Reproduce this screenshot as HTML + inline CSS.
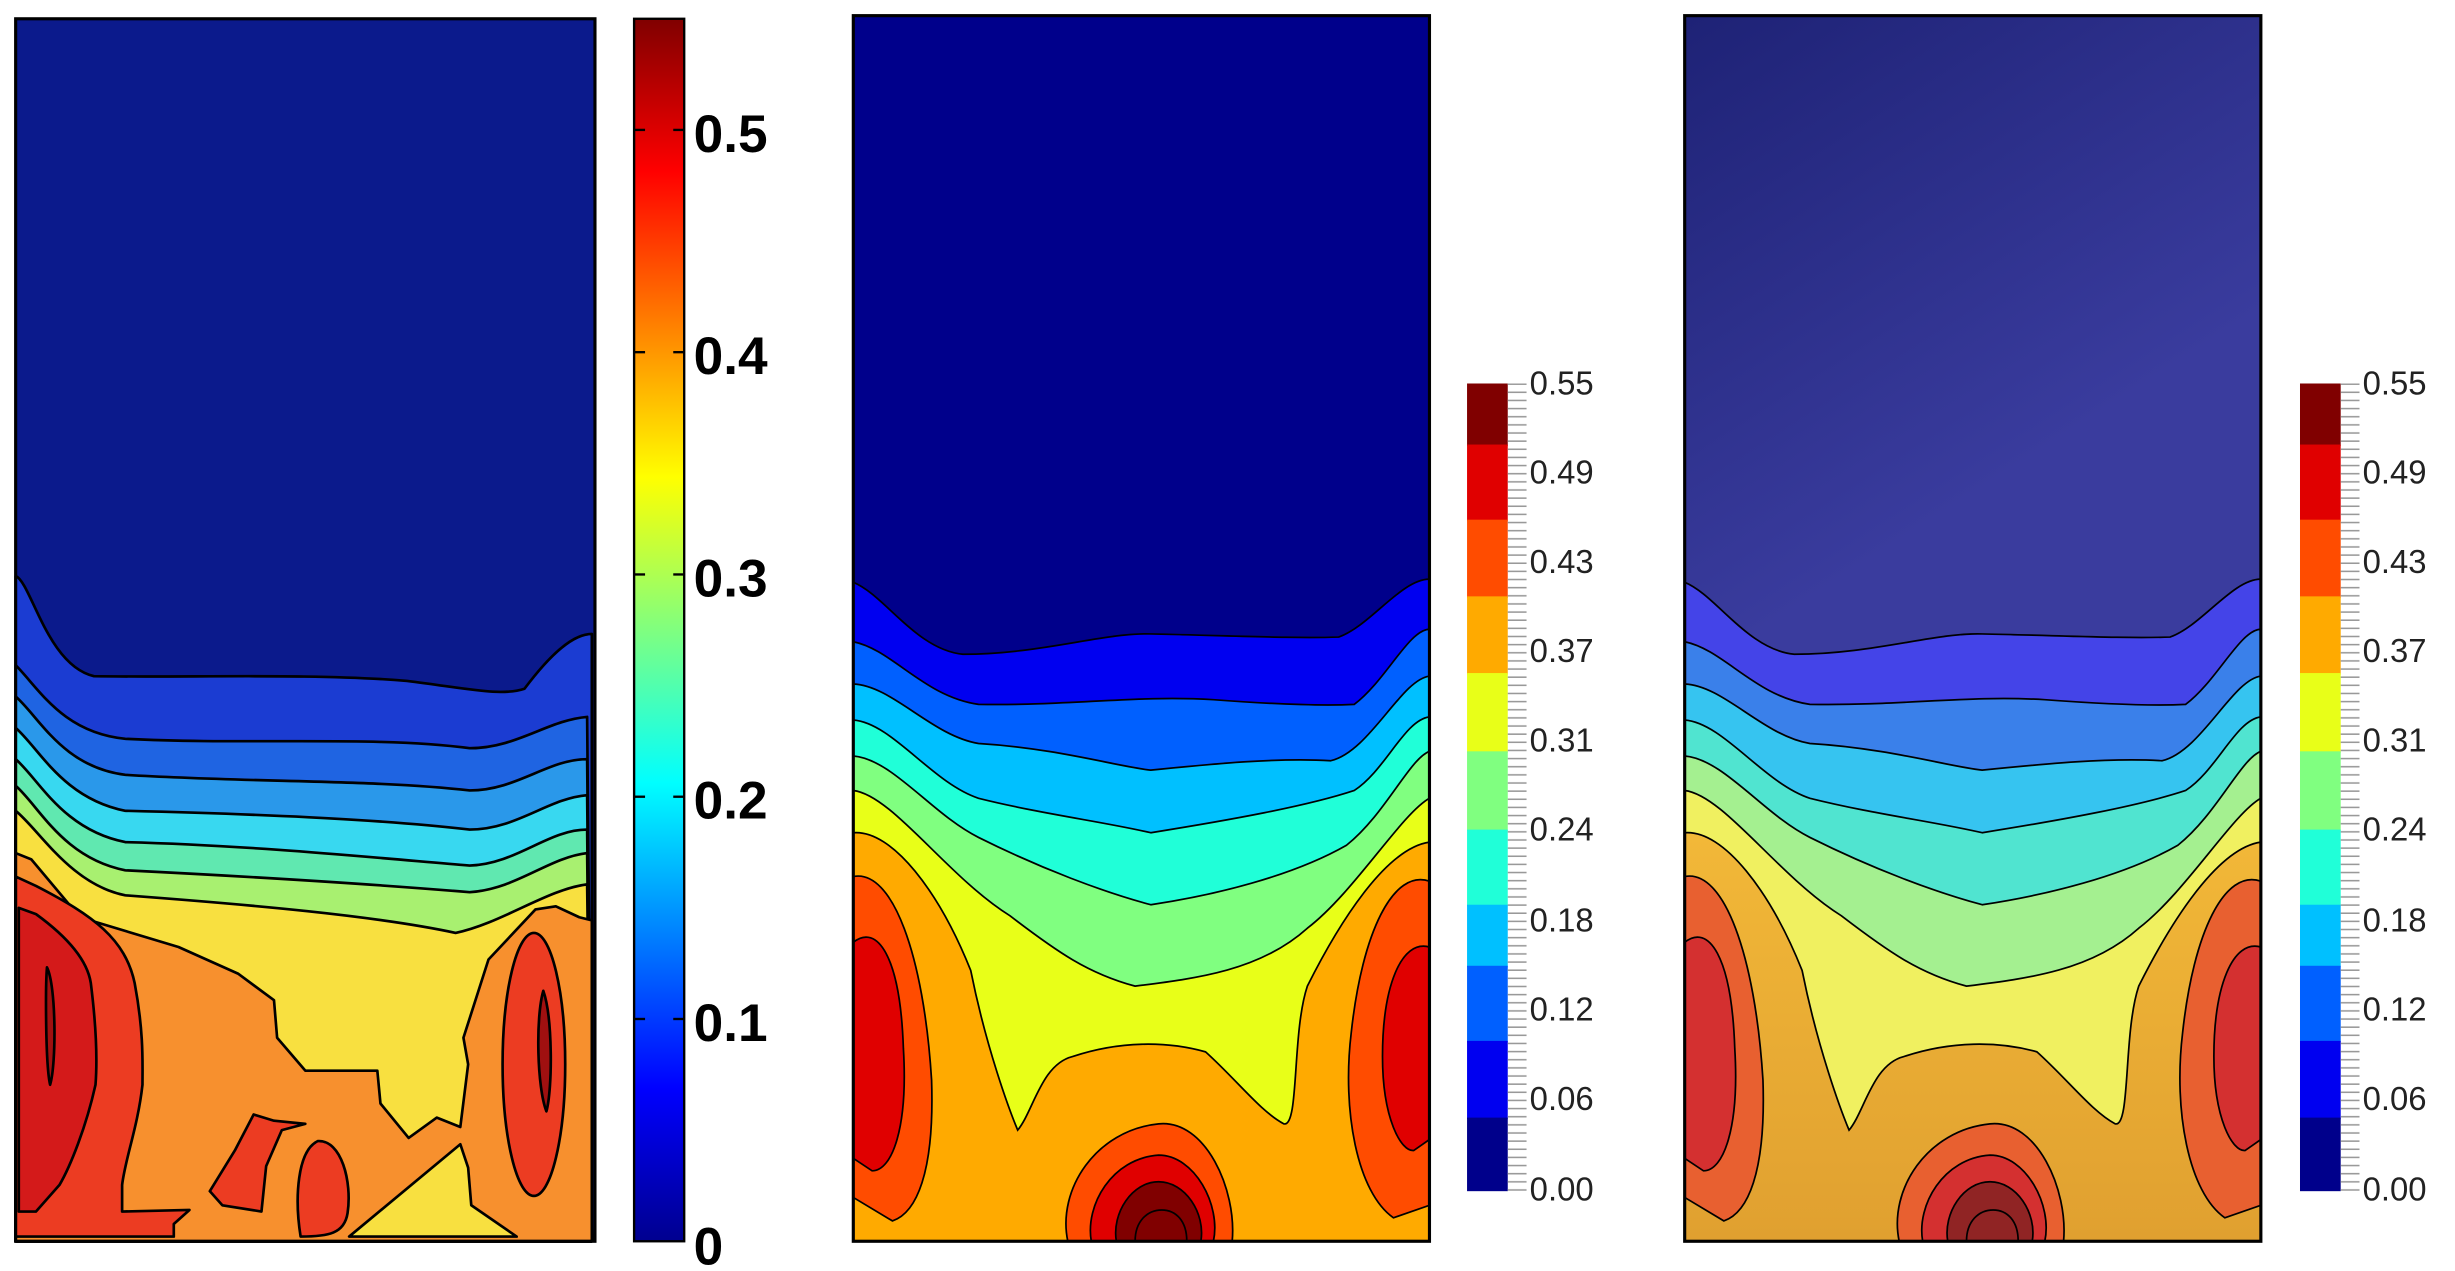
<!DOCTYPE html>
<html><head><meta charset="utf-8"><style>html,body{margin:0;padding:0;background:#fff}svg{display:block}</style></head>
<body>
<svg width="2455" height="1271" viewBox="0 0 1568 812" preserveAspectRatio="none" xmlns="http://www.w3.org/2000/svg">
<defs>
<linearGradient id="jet" x1="0" y1="1" x2="0" y2="0">
<stop offset="0" stop-color="#00008f"/><stop offset="0.125" stop-color="#0000ff"/><stop offset="0.375" stop-color="#00ffff"/><stop offset="0.625" stop-color="#ffff00"/><stop offset="0.875" stop-color="#ff0000"/><stop offset="1" stop-color="#800000"/>
</linearGradient>
<linearGradient id="bg3" x1="0" y1="0" x2="0.3" y2="1"><stop offset="0" stop-color="#1e2276"/><stop offset="0.5" stop-color="#3a3c9e"/></linearGradient>
<linearGradient id="or3" x1="0" y1="0" x2="0" y2="1"><stop offset="0" stop-color="#f2b838"/><stop offset="1" stop-color="#e0a030"/></linearGradient>
<pattern id="tk" x="0" y="0" width="20" height="5.2" patternUnits="userSpaceOnUse"><line x1="0" y1="1" x2="18" y2="1" stroke="#999" stroke-width="1"/></pattern>
<g id="p2" stroke="#000" stroke-width="1.1">
<path d="M0,362 C20,370 40,405 70,408 C120,408 160,394 190,395 C240,396 280,398 310,397 C330,390 350,360 368,360 L368,783 L0,783Z" fill="var(--c1)"/>
<path d="M0,400 C25,405 45,435 80,440 C140,441 180,434 230,437 C270,440 300,441 320,440 C340,425 355,392 368,392 L368,783 L0,783Z" fill="var(--c2)"/>
<path d="M0,427 C25,428 50,460 80,465 C130,468 170,480 190,482 C230,478 270,474 305,476 C330,470 350,424 368,422 L368,783 L0,783Z" fill="var(--c3)"/>
<path d="M0,450 C25,452 50,490 80,500 C120,510 160,515 190,522 C240,514 290,505 320,495 C340,482 352,450 368,448 L368,783 L0,783Z" fill="var(--c4)"/>
<path d="M0,473 C25,475 50,510 80,525 C120,545 160,560 190,568 C230,562 280,550 315,530 C340,510 355,475 368,470 L368,783 L0,783Z" fill="var(--c5)"/>
<path d="M0,495 C25,498 60,550 100,575 C130,598 150,612 180,620 C220,615 260,610 290,583 C320,560 350,510 368,500 L368,783 L0,783Z" fill="var(--c6)"/>
<path d="M0,522 C25,520 55,560 75,610 C85,660 100,700 105,712 C115,700 120,670 140,665 C170,655 200,655 225,662 C245,680 260,700 275,708 C285,710 280,650 290,620 C310,580 340,532 368,528 L368,783 L0,783Z" fill="var(--c7)"/>
<path d="M0,550 C25,545 45,600 50,680 C52,740 40,765 25,770 L0,755Z" fill="var(--c8)"/>
<path d="M0,592 C15,580 30,600 32,660 C35,710 25,738 12,738 L0,730Z" fill="var(--c9)"/>
<path d="M368,553 C345,545 325,585 318,650 C312,700 322,752 345,768 L368,760Z" fill="var(--c8)"/>
<path d="M368,595 C350,590 338,620 338,665 C338,705 350,726 358,725 L368,718Z" fill="var(--c9)"/>
<path d="M137,783 C130,750 155,712 195,708 C225,705 245,750 242,783Z" fill="var(--c8)"/>
<path d="M152,783 C148,760 165,730 195,728 C218,728 235,760 230,783Z" fill="var(--c9)"/>
<path d="M168,783 C165,765 178,745 195,745 C212,745 225,765 222,783Z" fill="var(--c10)"/>
<path d="M180,783 C180,770 188,763 197,763 C206,763 213,770 213,783Z" fill="var(--c10)"/>
</g>
</defs>

<!-- Panel 1 -->
<rect x="10" y="12" width="370" height="781" fill="#0b1a8c"/>
<g stroke="#000" stroke-width="1.7" stroke-linejoin="round">
<path d="M10,368 C20,372 30,425 60,432 C120,433 200,430 260,435 C300,440 320,445 335,440 C350,420 365,405 378,405 L378,793 L10,793Z" fill="#1b3cd2"/>
<path d="M10,425 C25,440 40,468 80,472 C160,476 240,470 300,478 C330,478 350,460 375,458 L378,793 L10,793Z" fill="#1f64e2"/>
<path d="M10,445 C25,458 40,490 80,495 C160,500 240,498 300,505 C330,505 350,485 375,485 L378,793 L10,793Z" fill="#2a98ea"/>
<path d="M10,465 C25,478 40,510 80,518 C160,520 240,523 300,530 C330,530 350,510 375,508 L378,793 L10,793Z" fill="#38d8f0"/>
<path d="M10,485 C25,498 40,530 80,538 C160,540 240,548 300,553 C330,552 350,530 375,530 L378,793 L10,793Z" fill="#60e8b0"/>
<path d="M10,502 C25,515 40,548 80,556 C160,560 240,565 300,570 C330,568 350,548 375,545 L378,793 L10,793Z" fill="#a8f070"/>
<path d="M10,518 C25,530 45,565 80,572 C160,578 240,585 291,596 C320,590 350,568 375,565 L378,793 L10,793Z" fill="#f8e040"/>
<path d="M10,545 L20,549 L51,586 L114,605 L152,622 L175,639 L177,663 L195,684 L241,684 L243,705 L261,727 L279,714 L294,720 L299,680 L296,663 L312,613 L342,581 L355,579 L370,586 L378,588 L378,793 L10,793Z" fill="#f7902e"/>
<path d="M294,731 L223,790 L330,790 L301,770 L299,746Z" fill="#f8e040"/>
<path d="M10,560 L23,566 C60,585 80,600 86,628 C92,660 91,680 91,693 C88,720 80,740 78,757 L78,774 L121,773 L111,782 L111,790 L10,790Z" fill="#ec3c22"/>
<path d="M12,580 L23,584 C45,600 56,615 58,628 C62,660 62,680 61,693 C55,720 45,745 38,757 L23,774 L12,774Z" fill="#d41a1a"/>
<path d="M30,618 C36,630 36,680 32,693 C29,680 29,630 30,618Z" fill="#a01010"/>
<ellipse cx="341" cy="680" rx="20" ry="84" fill="#ec3c22"/>
<path d="M347,633 C353,650 353,695 349,710 C343,695 342,650 347,633Z" fill="#a01010"/>
<path d="M134,761 L150,735 L162,712 L175,716 L195,718 L180,722 L170,745 L167,774 L142,770Z" fill="#ec3c22"/>
<path d="M192,790 C188,765 190,735 203,729 C218,728 225,755 222,775 C220,788 210,790 192,790Z" fill="#ec3c22"/>
</g>
<rect x="10" y="12" width="370" height="781" fill="none" stroke="#000" stroke-width="2"/>
<rect x="405" y="12" width="32" height="781" fill="url(#jet)" stroke="#000" stroke-width="1.5"/>
<g stroke="#000" stroke-width="1.5">
<line x1="405" y1="83" x2="412" y2="83"/><line x1="430" y1="83" x2="437" y2="83"/>
<line x1="405" y1="225" x2="412" y2="225"/><line x1="430" y1="225" x2="437" y2="225"/>
<line x1="405" y1="367" x2="412" y2="367"/><line x1="430" y1="367" x2="437" y2="367"/>
<line x1="405" y1="509" x2="412" y2="509"/><line x1="430" y1="509" x2="437" y2="509"/>
<line x1="405" y1="651" x2="412" y2="651"/><line x1="430" y1="651" x2="437" y2="651"/>
</g>
<g font-family="Liberation Sans, sans-serif" font-weight="bold" font-size="34" fill="#000">
<text x="443" y="97">0.5</text><text x="443" y="239">0.4</text><text x="443" y="381">0.3</text><text x="443" y="523">0.2</text><text x="443" y="665">0.1</text><text x="443" y="808">0</text>
</g>

<!-- Panel 2 -->
<rect x="545" y="10" width="368" height="783" fill="#00008b"/>
<g transform="translate(545,10)" style="--c1:#0000f0;--c2:#0060ff;--c3:#00c0ff;--c4:#20ffd8;--c5:#80ff80;--c6:#e8ff18;--c7:#ffaa00;--c8:#ff4c00;--c9:#e00000;--c10:#800000"><use href="#p2"/></g>
<rect x="545" y="10" width="368" height="783" fill="none" stroke="#000" stroke-width="2"/>

<!-- Panel 3 -->
<rect x="1076" y="10" width="368" height="783" fill="url(#bg3)"/>
<g transform="translate(1076,10)" style="--c1:#4444e8;--c2:#3a80ea;--c3:#36c4f0;--c4:#50e4d0;--c5:#a4f090;--c6:#f0f060;--c7:url(#or3);--c8:#e86030;--c9:#d43030;--c10:#902424"><use href="#p2"/></g>
<rect x="1076" y="10" width="368" height="783" fill="none" stroke="#000" stroke-width="2"/>

<!-- Colorbars 2 and 3 -->
<g>
<rect x="937" y="245" width="26" height="40" fill="#800000"/>
<rect x="937" y="284" width="26" height="49" fill="#e00000"/>
<rect x="937" y="332" width="26" height="50" fill="#ff4c00"/>
<rect x="937" y="381" width="26" height="50" fill="#ffaa00"/>
<rect x="937" y="430" width="26" height="51" fill="#e8ff18"/>
<rect x="937" y="480" width="26" height="51" fill="#80ff80"/>
<rect x="937" y="530" width="26" height="49" fill="#20ffd8"/>
<rect x="937" y="578" width="26" height="40" fill="#00c0ff"/>
<rect x="937" y="617" width="26" height="49" fill="#0060ff"/>
<rect x="937" y="665" width="26" height="50" fill="#0000f0"/>
<rect x="937" y="714" width="26" height="47" fill="#00008b"/>
<rect x="963" y="245" width="12" height="516" fill="url(#tk)"/>
<g font-family="Liberation Sans, sans-serif" font-size="21" fill="#222">
<text x="977" y="252">0.55</text><text x="977" y="309">0.49</text><text x="977" y="366">0.43</text><text x="977" y="423">0.37</text><text x="977" y="480">0.31</text><text x="977" y="537">0.24</text><text x="977" y="595">0.18</text><text x="977" y="652">0.12</text><text x="977" y="709">0.06</text><text x="977" y="767">0.00</text>
</g>
</g>
<g transform="translate(532,0)">
<rect x="937" y="245" width="26" height="40" fill="#800000"/>
<rect x="937" y="284" width="26" height="49" fill="#e00000"/>
<rect x="937" y="332" width="26" height="50" fill="#ff4c00"/>
<rect x="937" y="381" width="26" height="50" fill="#ffaa00"/>
<rect x="937" y="430" width="26" height="51" fill="#e8ff18"/>
<rect x="937" y="480" width="26" height="51" fill="#80ff80"/>
<rect x="937" y="530" width="26" height="49" fill="#20ffd8"/>
<rect x="937" y="578" width="26" height="40" fill="#00c0ff"/>
<rect x="937" y="617" width="26" height="49" fill="#0060ff"/>
<rect x="937" y="665" width="26" height="50" fill="#0000f0"/>
<rect x="937" y="714" width="26" height="47" fill="#00008b"/>
<rect x="963" y="245" width="12" height="516" fill="url(#tk)"/>
<g font-family="Liberation Sans, sans-serif" font-size="21" fill="#222">
<text x="977" y="252">0.55</text><text x="977" y="309">0.49</text><text x="977" y="366">0.43</text><text x="977" y="423">0.37</text><text x="977" y="480">0.31</text><text x="977" y="537">0.24</text><text x="977" y="595">0.18</text><text x="977" y="652">0.12</text><text x="977" y="709">0.06</text><text x="977" y="767">0.00</text>
</g>
</g>
</svg>
</body></html>
